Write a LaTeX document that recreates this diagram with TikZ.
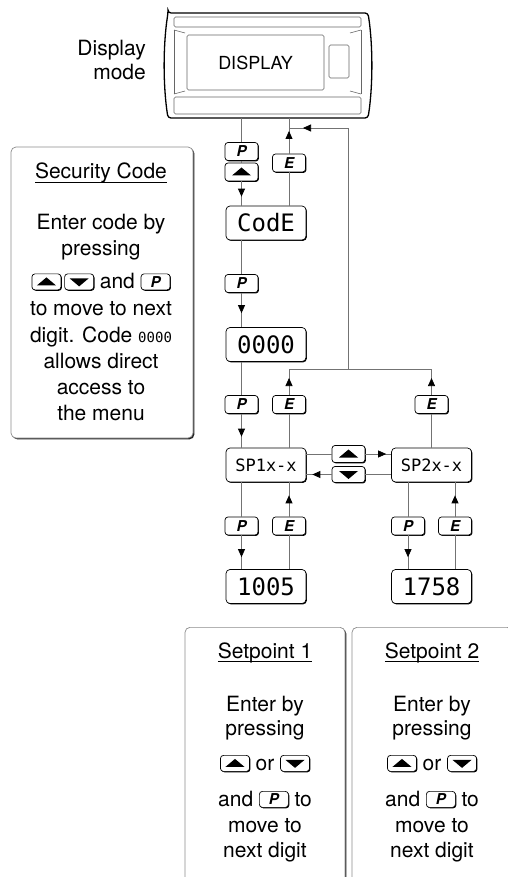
\documentclass[tikz,border=0pt]{standalone}
\usepackage{fontspec}
\setmainfont{TeX Gyre Heros}
\newfontfamily\segfont{DejaVu Sans Mono}
\usetikzlibrary{arrows.meta,shadows,decorations.markings,positioning}

\newcommand{\keyfont}{\fontsize{15}{15}\selectfont\bfseries\itshape}
\newcommand{\lcdbig}{\segfont\fontsize{24}{24}\selectfont}
\newcommand{\lcdsmall}{\segfont\fontsize{17}{17}\selectfont}
\newcommand{\lcdtiny}{\segfont\fontsize{14}{14}\selectfont}
\newsavebox\ulbox
\newcommand{\ulined}[1]{\sbox\ulbox{#1}\rlap{\rule[-3.5pt]{\wd\ulbox}{0.7pt}}\usebox\ulbox}

\tikzset{
    flow/.style={line width=0.75pt, black!55},
    % arrow head in the middle of a line, #1 = distance from the end
    arrowat/.style={postaction={decorate},
        decoration={markings, mark=at position #1 with {\arrow{Triangle[length=8pt,width=7pt,color=black]}}}},
    keyshadow/.style={drop shadow={shadow xshift=0.9pt, shadow yshift=-0.9pt, opacity=1, fill=black}},
    keybtn/.style={draw=black, line width=0.7pt, fill=white, rounded corners=3pt,
        minimum width=33pt, minimum height=18pt, inner sep=0pt, font=\keyfont, keyshadow},
    inkey/.style={anchor=center, minimum width=29pt, minimum height=16pt},
    upbtn/.style={keybtn, path picture={\fill[black, sharp corners]
        ([xshift=-9.5pt,yshift=-3.5pt]path picture bounding box.center) -- ++(19pt,0) -- ++(-9.5pt,8pt) -- cycle;}},
    downbtn/.style={keybtn, path picture={\fill[black, sharp corners]
        ([xshift=-9.5pt,yshift=3.5pt]path picture bounding box.center) -- ++(19pt,0) -- ++(-9.5pt,-8pt) -- cycle;}},
    lcd/.style={draw=black, line width=0.7pt, fill=white, rounded corners=4pt,
        minimum width=80pt, minimum height=34pt, inner sep=0pt, keyshadow},
    notebox/.style={draw=black!45, line width=0.7pt, fill=white, rounded corners=5pt,
        drop shadow={shadow xshift=1.4pt, shadow yshift=-1.4pt, opacity=1, fill=black!85}},
    notetext/.style={align=center, inner sep=0pt, font=\fontsize{21}{26}\selectfont},
    bezel/.style={black!60, line width=0.6pt}
}

\newcommand{\kup}{\tikz[baseline=-7pt]\node[upbtn,inkey] (ikey) at (0,0) {};}
\newcommand{\kdown}{\tikz[baseline=-7pt]\node[downbtn,inkey] (ikey) at (0,0) {};}
\newcommand{\kp}{\tikz[baseline=-7pt]\node[keybtn,inkey] (ikey) at (0,0) {P};}

\begin{document}
\begin{tikzpicture}[x=1pt,y=1pt]
    \useasboundingbox (0,0) rectangle (507,-877);
    % front panel of the meter
    \draw[line width=1.3pt, rounded corners=3pt] (168,-13) -- (368,-13)
        .. controls (373,-45) and (373,-86) .. (368,-118) -- (168,-118)
        .. controls (163,-86) and (163,-45) .. (168,-13) -- cycle;
    \draw[bezel, rounded corners=1.5pt] (174,-17) rectangle (361,-27) (174,-97) rectangle (361,-114);
    \draw[bezel] (174,-30) -- (174,-94) (361,-30) -- (361,-94);
    \draw[bezel] (174,-30) -- (185,-33) (174,-94) -- (185,-91)
        (361,-30) -- (350,-33) (361,-94) -- (350,-91);
    \draw[bezel, rounded corners=1.5pt] (187,-35) rectangle (324,-90);
    \draw[bezel, rounded corners=1.5pt] (329,-45) rectangle (349,-78);
    \node[font=\fontsize{18}{18}\selectfont] (disptext) at (255.5,-62.5) {DISPLAY};
    \node[align=right, anchor=north east, inner sep=0pt, font=\fontsize{21}{24}\selectfont]
        (modelabel) at (146,-40) {Display\\mode};
    \coordinate (dispP) at (241.5,-118);
    \coordinate (dispE) at (289,-118);

    % keys and displays
    \node[keybtn] (kP1) at (241.5,-151.5) {P};
    \node[upbtn] (kU1) at (241.5,-172) {};
    \node[keybtn] (kE1) at (289,-163) {E};
    \node[lcd, font=\lcdbig] (code) at (266,-223) {CodE};
    \node[keybtn] (kP2) at (241.5,-283.5) {P};
    \node[lcd, font=\lcdbig] (zero) at (266,-344.5) {0000};
    \node[keybtn] (kP3) at (241.5,-404.5) {P};
    \node[keybtn] (kE2) at (289,-404.5) {E};
    \node[keybtn] (kE3) at (431.5,-404.5) {E};
    \node[lcd, font=\lcdsmall] (spone) at (266,-465) {SP1x-x};
    \node[lcd, font=\lcdsmall] (sptwo) at (431.5,-465) {SP2x-x};
    \node[upbtn, minimum height=17pt] (kU2) at (348.5,-454) {};
    \node[downbtn, minimum height=16pt] (kD2) at (348.5,-474.5) {};
    \node[keybtn] (kP4) at (241.5,-526) {P};
    \node[keybtn] (kE4) at (289,-526) {E};
    \node[keybtn] (kP5) at (408,-526) {P};
    \node[keybtn] (kE5) at (455,-526) {E};
    \node[lcd, font=\lcdbig] (oneval) at (266,-586.5) {1005};
    \node[lcd, font=\lcdbig] (twoval) at (431.5,-586.5) {1758};

    \coordinate (jA) at (289,-369);
    \coordinate (jB) at (431.5,-369);
    \coordinate (jM) at (348,-369);
    \coordinate (jT) at (348,-128);
    \coordinate (jE) at (289,-128);

    % connectors
    \draw[flow] (dispP) -- (kP1.north);
    \draw[flow] (kP1.south) -- (kU1.north);
    \draw[flow, arrowat=-9pt] (kU1.south) -- (kU1.south |- code.north);
    \draw[flow] (code.north -| kE1) -- (kE1.south);
    \draw[flow, arrowat=-13pt] (kE1.north) -- (dispE);
    \draw[flow] (code.south -| kP2) -- (kP2.north);
    \draw[flow, arrowat=-14pt] (kP2.south) -- (kP2.south |- zero.north);
    \draw[flow] (zero.south -| kP3) -- (kP3.north);
    \draw[flow, arrowat=-11pt] (kP3.south) -- (kP3.south |- spone.north);
    \draw[flow] (spone.north -| kE2) -- (kE2.south);
    \draw[flow, arrowat=-9pt] (kE2.north) -- (jA);
    \draw[flow] (sptwo.north) -- (kE3.south);
    \draw[flow, arrowat=-9pt] (kE3.north) -- (jB);
    \draw[flow] (jA) -- (jB);
    \draw[flow, arrowat=-14pt] (jM) -- (jT) -- (jE);
    \draw[flow] (spone.east |- kU2) -- (kU2.west);
    \draw[flow, arrowat=-5pt] (kU2.east) -- (kU2.east -| sptwo.west);
    \draw[flow] (sptwo.west |- kD2) -- (kD2.east);
    \draw[flow, arrowat=-6pt] (kD2.west) -- (kD2.west -| spone.east);
    \draw[flow] (spone.south -| kP4) -- (kP4.north);
    \draw[flow, arrowat=-12pt] (kP4.south) -- (kP4.south |- oneval.north);
    \draw[flow] (oneval.north -| kE4) -- (kE4.south);
    \draw[flow, arrowat=-13pt] (kE4.north) -- (kE4.north |- spone.south);
    \draw[flow] (sptwo.south -| kP5) -- (kP5.north);
    \draw[flow, arrowat=-12pt] (kP5.south) -- (kP5.south |- twoval.north);
    \draw[flow] (twoval.north -| kE5) -- (kE5.south);
    \draw[flow, arrowat=-13pt] (kE5.north) -- (kE5.north |- sptwo.south);

    % notes
    \node[notebox, minimum width=182pt, minimum height=291pt] (secbox) at (102,-292.5) {};
    \node[notetext, anchor=north] (sectext) at (101,-163) {\ulined{Security Code}\\[25pt]
        Enter code by\\ pressing\\[7pt] \kup\hspace{3pt}\kdown\ and \kp\\[1pt]
        to move to next\\[1pt] digit. Code {\lcdtiny 0000}\\ allows direct\\ access to\\ the menu};
    \node[notebox, minimum width=160pt, minimum height=280pt, anchor=north] (sponebox) at (265,-627) {};
    \node[notetext, anchor=north] (sponetext) at (265,-642.5) {\ulined{Setpoint 1}\\[27pt]
        Enter by\\[-2pt] pressing\\[9pt] \kup\ or \kdown\\[10pt] and \kp\ to\\ move to\\[-1pt] next digit};
    \node[notebox, minimum width=160pt, minimum height=280pt, anchor=north] (sptwobox) at (432,-627) {};
    \node[notetext, anchor=north] (sptwotext) at (432,-642.5) {\ulined{Setpoint 2}\\[27pt]
        Enter by\\[-2pt] pressing\\[9pt] \kup\ or \kdown\\[10pt] and \kp\ to\\ move to\\[-1pt] next digit};
\end{tikzpicture}
\end{document}
